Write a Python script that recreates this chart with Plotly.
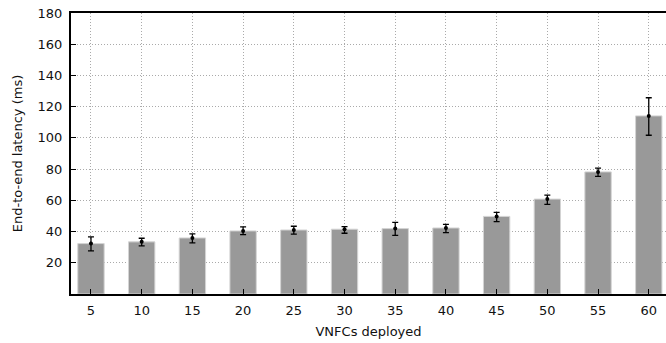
import plotly.graph_objects as go

categories = ["5", "10", "15", "20", "25", "30", "35", "40", "45", "50", "55", "60"]
latency = [32.3, 33.4, 35.9, 40.4, 41.0, 41.5, 41.9, 42.3, 49.7, 60.8, 78.2, 114.1]
err_plus = [4.3, 2.3, 2.6, 2.6, 2.4, 1.6, 4.0, 2.3, 2.6, 2.5, 2.4, 11.6]
err_minus = [4.7, 2.6, 3.2, 2.4, 2.7, 2.6, 4.3, 3.0, 3.4, 3.4, 2.8, 12.4]
y_ticks = [20, 40, 60, 80, 100, 120, 140, 160, 180]

font = "DejaVu Sans, Verdana, sans-serif"

fig = go.Figure()
fig.add_trace(go.Bar(
    x=categories, y=latency, width=0.52,
    marker=dict(color="#999999", line=dict(color="#d4d4d4", width=1)),
    showlegend=False,
))
fig.add_trace(go.Scatter(
    x=categories, y=latency, mode="markers",
    marker=dict(color="black", size=4),
    error_y=dict(type="data", symmetric=False, array=err_plus, arrayminus=err_minus,
                 color="black", thickness=1.3, width=3),
    showlegend=False,
))

fig.update_layout(
    width=666, height=343,
    margin=dict(l=71, r=0, t=13, b=49, autoexpand=False),
    plot_bgcolor="white", paper_bgcolor="white",
    font=dict(family=font, size=13, color="#111"),
)
fig.update_xaxes(
    range=[-0.394, 11.34], automargin=False,
    showline=True, linecolor="black", linewidth=1.5, mirror=True,
    ticks="inside", ticklen=5, tickcolor="black", tickwidth=1,
    showgrid=True, gridcolor="#aaaaaa", griddash="1px,2px", gridwidth=1,
    ticklabelstandoff=4,
    title=dict(text="VNFCs deployed", font=dict(size=13, family=font), standoff=10),
    tickfont=dict(size=13),
)
fig.update_yaxes(
    range=[0, 180], tickvals=y_ticks, automargin=False,
    showline=True, linecolor="black", linewidth=2, mirror=True,
    ticks="inside", ticklen=5, tickcolor="black", tickwidth=1,
    showgrid=True, gridcolor="#aaaaaa", griddash="1px,2px", gridwidth=1,
    zeroline=False, ticklabelstandoff=4,
    title=dict(text="End-to-end latency (ms)", font=dict(size=13, family=font), standoff=12),
    tickfont=dict(size=13),
)

fig.write_html("out.html", post_script="document.body.style.margin='0px';",
               config={"displayModeBar": False})
